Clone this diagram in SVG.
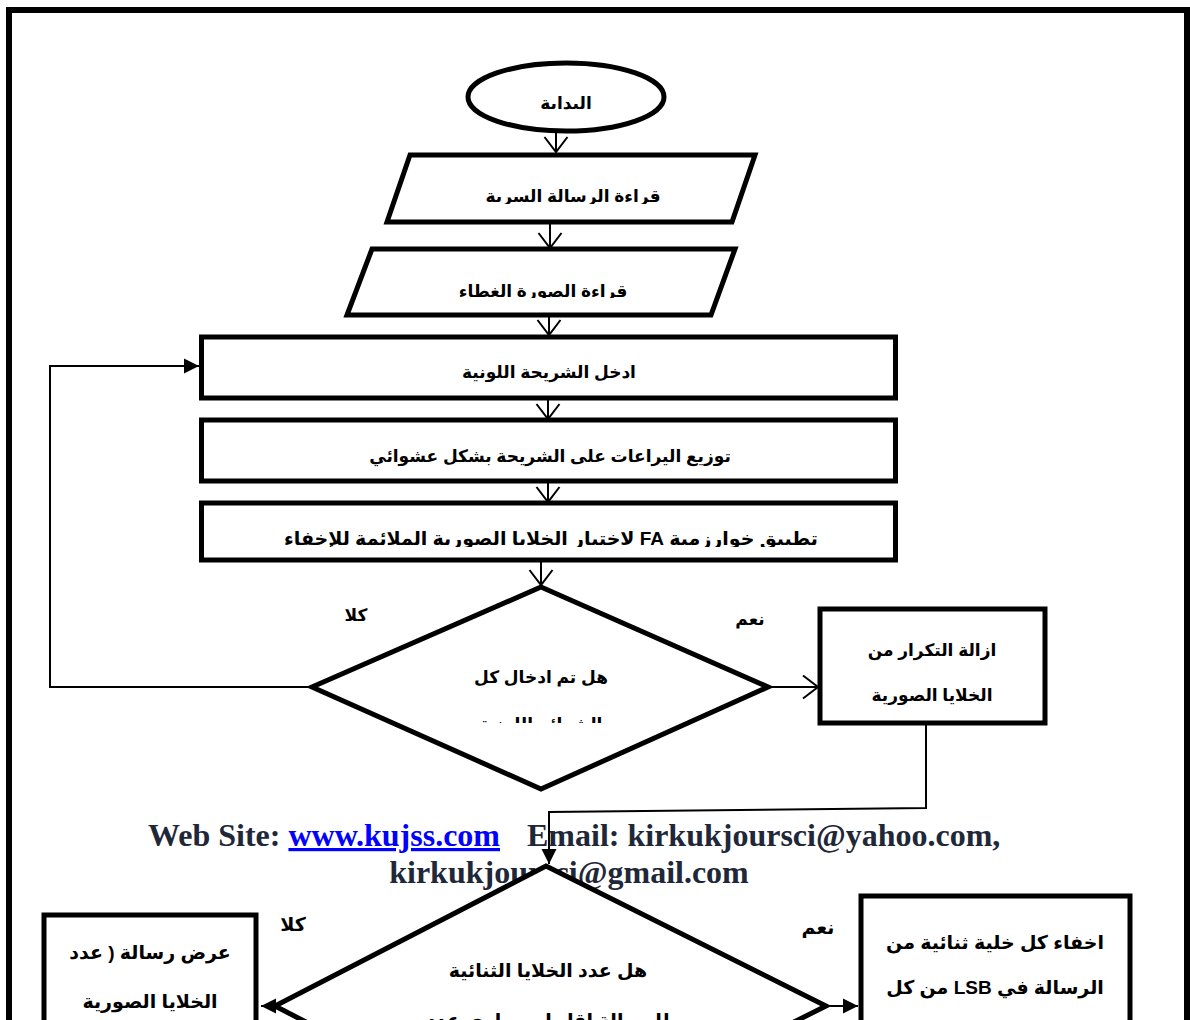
<svg xmlns="http://www.w3.org/2000/svg" width="1190" height="1020" viewBox="0 0 1190 1020">
<style>
.sh{fill:#fff;stroke:#000;stroke-width:5}
.ar{font-family:"Liberation Sans","DejaVu Sans",sans-serif;font-weight:bold;font-size:17px;fill:#000;text-anchor:middle;direction:rtl}
.big{font-size:19px}
.ln{fill:none;stroke:#000;stroke-width:2}
.web{font-family:"Liberation Serif","Times New Roman",serif;font-weight:bold;font-size:32px;fill:#1f2838}
</style>
<defs>
<marker id="open" markerUnits="userSpaceOnUse" markerWidth="18" markerHeight="26" refX="15" refY="11.5" orient="auto" overflow="visible">
<path d="M0,0 L15,11.5 L0,23" fill="none" stroke="#000" stroke-width="2"/>
</marker>
<marker id="fill" markerUnits="userSpaceOnUse" markerWidth="16" markerHeight="16" refX="15" refY="7.5" orient="auto" overflow="visible">
<path d="M0,0 L15,7.5 L0,15 Z" fill="#000"/>
</marker>
<clipPath id="c0"><rect x="0" y="0" width="1190" height="110"/></clipPath>
<clipPath id="c1"><rect x="0" y="150" width="1190" height="54"/></clipPath>
<clipPath id="c2"><rect x="0" y="250" width="1190" height="48"/></clipPath>
<clipPath id="c3"><rect x="0" y="500" width="1190" height="47"/></clipPath>
<clipPath id="c4"><rect x="0" y="600" width="1190" height="123"/></clipPath>
</defs>
<rect x="9" y="10" width="1178" height="1030" fill="#fff" stroke="#000" stroke-width="6"/>

<g id="website">
<text class="web" x="148" y="846">Web Site: <tspan fill="#0000ff" text-decoration="underline">www.kujss.com</tspan><tspan x="527">Email: kirkukjoursci@yahoo.com,</tspan></text>
<text class="web" x="569" y="883" text-anchor="middle">kirkukjoursci@gmail.com</text>
</g>

<g id="connectors">
<line class="ln" x1="556" y1="132" x2="556" y2="152" marker-end="url(#open)"/>
<line class="ln" x1="550" y1="223" x2="550" y2="248" marker-end="url(#open)"/>
<line class="ln" x1="549" y1="316" x2="549" y2="335" marker-end="url(#open)"/>
<line class="ln" x1="548" y1="399" x2="548" y2="419" marker-end="url(#open)"/>
<line class="ln" x1="548" y1="482" x2="548" y2="502" marker-end="url(#open)"/>
<line class="ln" x1="541" y1="562" x2="541" y2="585" marker-end="url(#open)"/>
<path class="ln" d="M312,687 L50,687 L50,366 L199,366" marker-end="url(#fill)"/>
<line class="ln" x1="768" y1="687" x2="818" y2="687" marker-end="url(#open)"/>
<path class="ln" d="M926,725 L926,808 L549,812 L549,864" marker-end="url(#fill)"/>
<line class="ln" x1="275" y1="1006" x2="261" y2="1006" marker-end="url(#fill)"/>
<line class="ln" x1="826" y1="1006" x2="858" y2="1006" marker-end="url(#fill)"/>
</g>

<g id="start">
<ellipse class="sh" cx="566" cy="97" rx="98" ry="34"/>
<text class="ar" x="566" y="109" clip-path="url(#c0)">البداية</text>
</g>
<g id="read-message">
<polygon class="sh" points="410,155 755,155 732,222 387,222"/>
<text class="ar" x="573" y="202" clip-path="url(#c1)">قراءة الرسالة السرية</text>
</g>
<g id="read-cover">
<polygon class="sh" points="372,249 735,249 711,315 347,315"/>
<text class="ar" x="543" y="297" clip-path="url(#c2)">قراءة الصورة الغطاء</text>
</g>
<g id="enter-slice">
<rect class="sh" x="201.5" y="337" width="694" height="61"/>
<text class="ar" x="549" y="378" font-size="18">ادخل الشريحة اللونية</text>
</g>
<g id="distribute">
<rect class="sh" x="201.5" y="420" width="694" height="61"/>
<text class="ar" x="550" y="462" font-size="17.7">توزيع اليراعات على الشريحة بشكل عشوائي</text>
</g>
<g id="apply-fa">
<rect class="sh" x="201.5" y="503" width="694" height="57"/>
<text class="ar big" x="551" y="545" clip-path="url(#c3)">تطبيق خوارزمية FA لاختيار الخلايا الصورية الملائمة للإخفاء</text>
</g>
<g id="decision1">
<polygon class="sh" points="541,587 768,687 541,789 312,687"/>
<text class="ar" x="541" y="683">هل تم ادخال كل</text>
<text class="ar" x="541" y="730" clip-path="url(#c4)">الشرائح اللونية</text>
<text class="ar" x="356" y="621">كلا</text>
<text class="ar" x="750" y="625">نعم</text>
</g>
<g id="remove-dup">
<rect class="sh" x="820" y="609" width="225" height="114"/>
<text class="ar" x="932" y="656">ازالة التكرار من</text>
<text class="ar" x="932" y="701">الخلايا الصورية</text>
</g>
<g id="decision2">
<polygon class="sh" points="546,866 826,1006 546,1146 275,1006"/>
<text class="ar big" x="548" y="977">هل عدد الخلايا الثنائية</text>
<text class="ar big" x="548" y="1027">للرسالة اقل او يساوي عدد</text>
<text class="ar big" x="293" y="931">كلا</text>
<text class="ar big" x="818" y="934">نعم</text>
</g>
<g id="show-message">
<rect class="sh" x="44" y="915" width="212" height="120"/>
<text class="ar big" x="150" y="959">عرض رسالة ( عدد</text>
<text class="ar big" x="150" y="1008">الخلايا الصورية</text>
</g>
<g id="hide-bits">
<rect class="sh" x="861" y="896" width="269" height="140"/>
<text class="ar big" x="995" y="949">اخفاء كل خلية ثنائية من</text>
<text class="ar big" x="995" y="994">الرسالة في LSB من كل</text>
</g>
</svg>
